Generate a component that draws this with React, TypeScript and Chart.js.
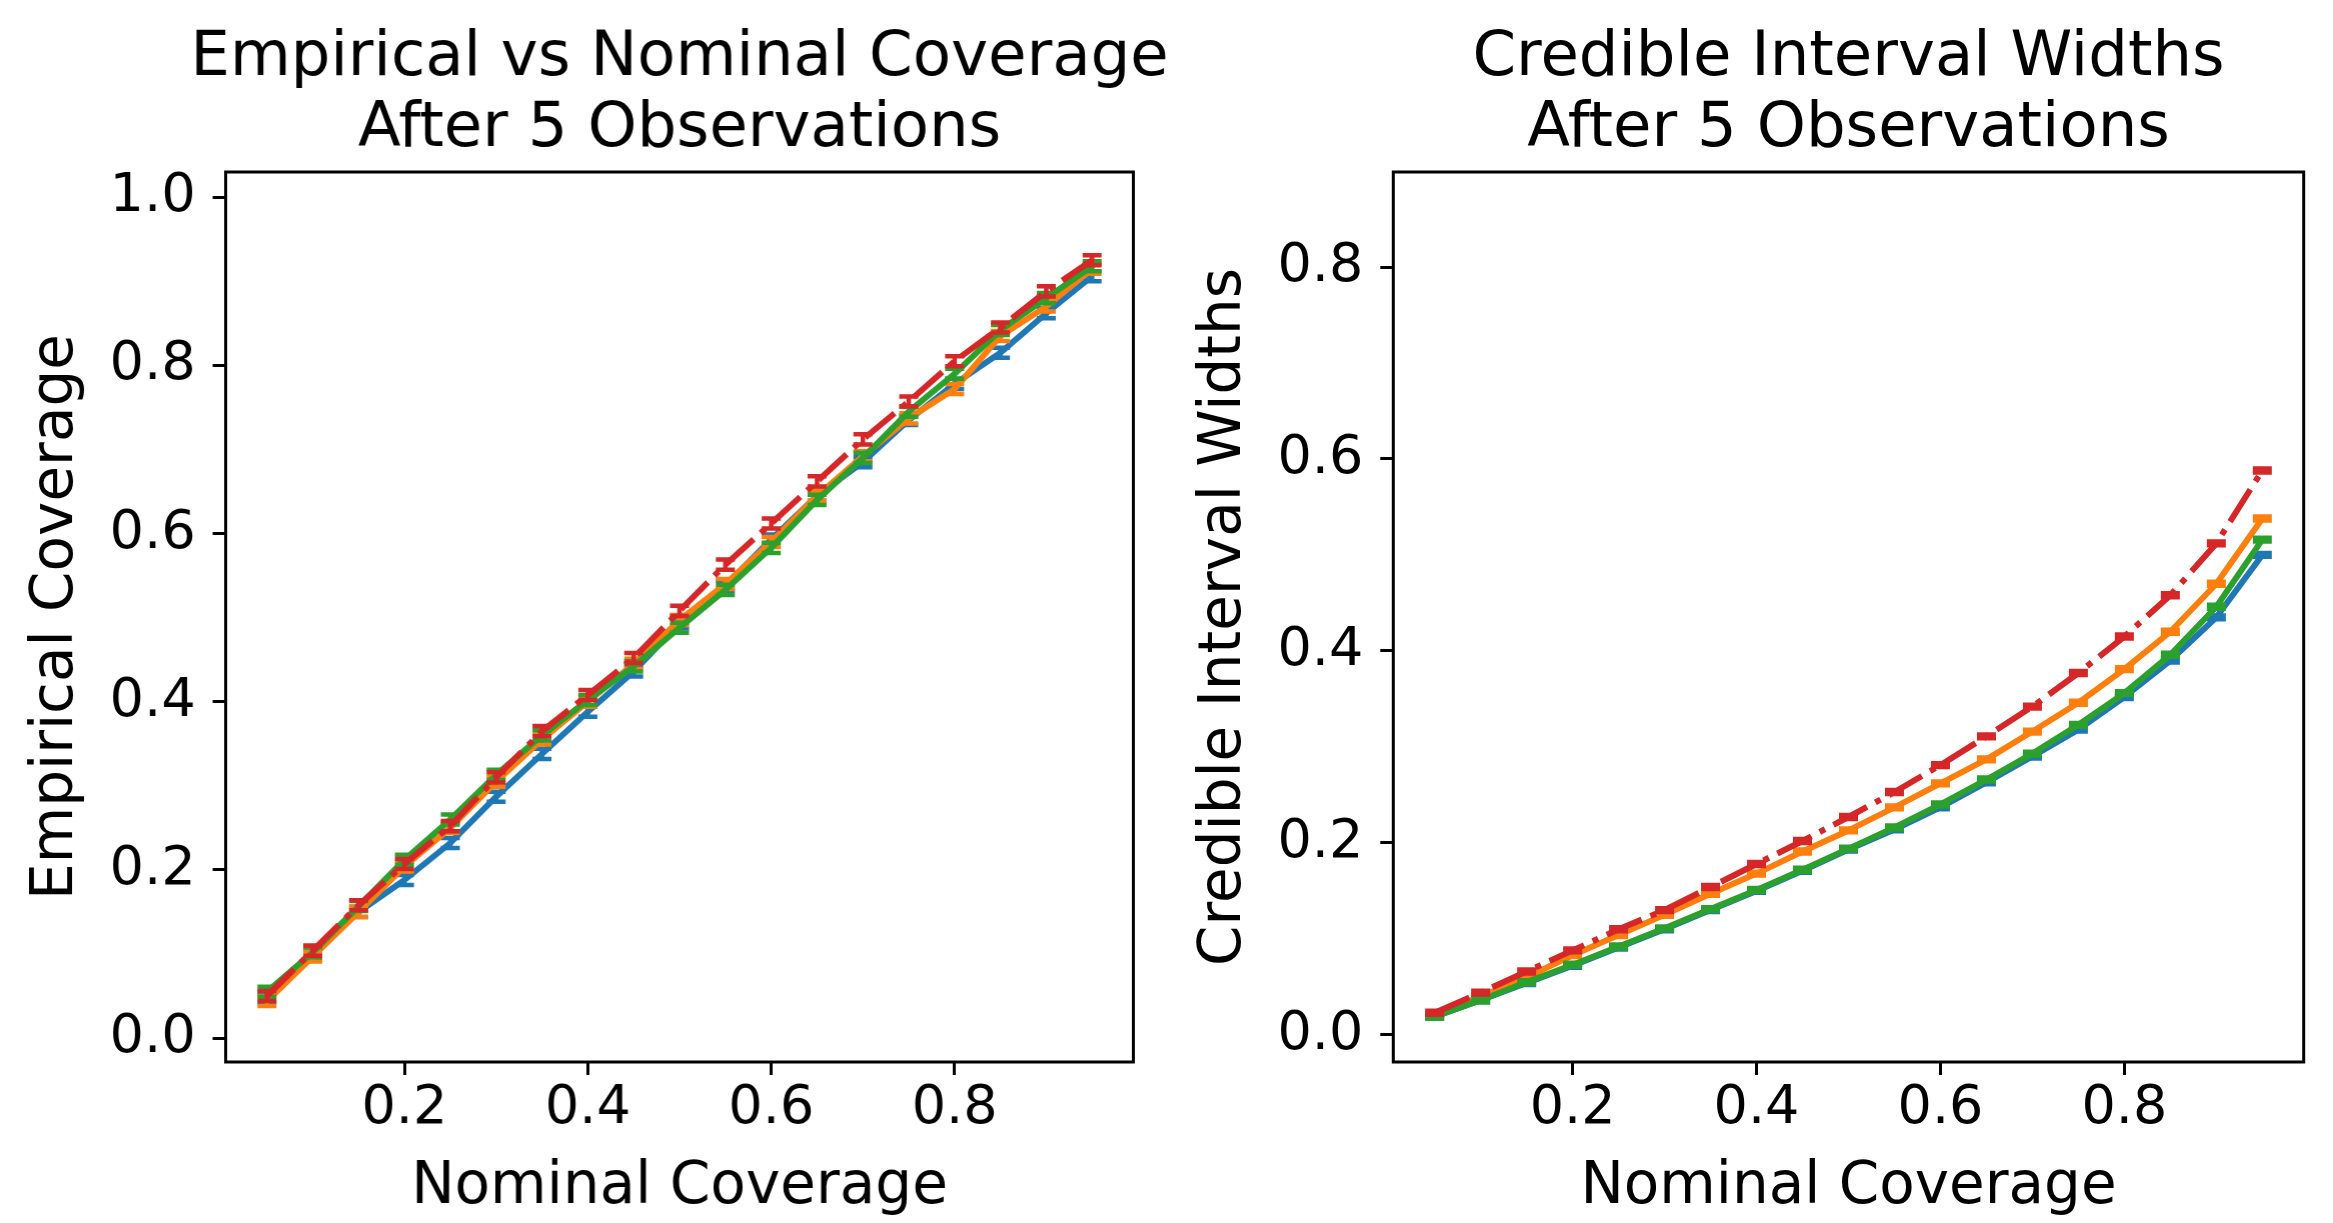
import React, { useEffect, useRef } from "react";
import { Chart, registerables } from "chart.js";

Chart.register(...registerables);

// Nominal coverage levels shared by both panels
const NOMINAL = [0.05, 0.1, 0.15, 0.2, 0.25, 0.3, 0.35, 0.4, 0.45, 0.5, 0.55, 0.6, 0.65, 0.7, 0.75, 0.8, 0.85, 0.9, 0.95];

// Empirical coverage after 5 observations
const COVERAGE_BLUE = [0.048, 0.099, 0.15, 0.188, 0.232, 0.287, 0.338, 0.388, 0.436, 0.493, 0.538, 0.593, 0.645, 0.685, 0.735, 0.778, 0.815, 0.862, 0.906];
const COVERAGE_ORANGE = [0.044, 0.097, 0.15, 0.204, 0.25, 0.305, 0.355, 0.4, 0.445, 0.497, 0.54, 0.59, 0.645, 0.692, 0.737, 0.772, 0.835, 0.87, 0.915];
const COVERAGE_GREEN = [0.055, 0.102, 0.157, 0.212, 0.26, 0.313, 0.36, 0.402, 0.442, 0.488, 0.533, 0.583, 0.64, 0.69, 0.745, 0.79, 0.842, 0.88, 0.918];
const COVERAGE_RED = [0.05, 0.104, 0.158, 0.207, 0.252, 0.31, 0.365, 0.408, 0.452, 0.508, 0.563, 0.612, 0.662, 0.712, 0.757, 0.805, 0.845, 0.888, 0.925];
const COVERAGE_ERR = 0.006;

// Mean credible interval widths after 5 observations
const WIDTH_BLUE = [0.019, 0.036, 0.054, 0.072, 0.091, 0.11, 0.13, 0.15, 0.171, 0.193, 0.214, 0.237, 0.263, 0.29, 0.318, 0.352, 0.39, 0.435, 0.5];
const WIDTH_ORANGE = [0.021, 0.04, 0.06, 0.083, 0.104, 0.125, 0.147, 0.168, 0.191, 0.213, 0.237, 0.262, 0.287, 0.316, 0.346, 0.381, 0.42, 0.47, 0.538];
const WIDTH_GREEN = [0.019, 0.036, 0.055, 0.073, 0.092, 0.111, 0.131, 0.151, 0.172, 0.194, 0.216, 0.24, 0.266, 0.293, 0.323, 0.356, 0.396, 0.446, 0.516];
const WIDTH_RED = [0.023, 0.044, 0.066, 0.088, 0.11, 0.13, 0.154, 0.178, 0.202, 0.227, 0.253, 0.281, 0.311, 0.342, 0.377, 0.415, 0.458, 0.512, 0.588];
const WIDTH_ERR = 0.002;

const X_TICKS_STEP = 0.2;
const Y_TICKS_STEP = 0.2;

const BLUE = "#1f77b4";
const ORANGE = "#ff7f0e";
const GREEN = "#2ca02c";
const RED = "#d62728";

const FONT = "'DejaVu Sans', 'Liberation Sans', sans-serif";
const FIG_W = 2333;
const FIG_H = 1223;
const LINE_W = 6;

// Vertical error bars with caps, drawn right after each dataset's line
const errorBars = {
  id: "errorBars",
  afterDatasetDraw(chart: any, args: any) {
    const ds = chart.data.datasets[args.index];
    if (ds.yErr == null) return;
    const { ctx } = chart;
    const y = chart.scales.y;
    const cap = 9.5;
    ctx.save();
    ctx.strokeStyle = ds.borderColor;
    ctx.lineWidth = 4.5;
    ctx.setLineDash([]);
    ctx.lineCap = "butt";
    args.meta.data.forEach((pt: any, i: number) => {
      const v = ds.data[i].y;
      const e = Array.isArray(ds.yErr) ? ds.yErr[i] : ds.yErr;
      const top = y.getPixelForValue(v + e);
      const bot = y.getPixelForValue(v - e);
      const x = pt.x;
      ctx.beginPath();
      ctx.moveTo(x, top);
      ctx.lineTo(x, bot);
      ctx.moveTo(x - cap, top);
      ctx.lineTo(x + cap, top);
      ctx.moveTo(x - cap, bot);
      ctx.lineTo(x + cap, bot);
      ctx.stroke();
    });
    ctx.restore();
  },
};

// Four-sided axes frame
const frame = {
  id: "frame",
  afterDatasetsDraw(chart: any) {
    const { ctx, chartArea: a } = chart;
    ctx.save();
    ctx.strokeStyle = "#000";
    ctx.lineWidth = 3;
    ctx.setLineDash([]);
    ctx.strokeRect(a.left, a.top, a.right - a.left, a.bottom - a.top);
    ctx.restore();
  },
};

type Panel = {
  left: number;
  plotLeft: number;
  plotRight: number;
  yTitlePad: number;
  title: string[];
  yTitle: string;
  yMin: number;
  yMax: number;
  blue: number[];
  orange: number[];
  green: number[];
  red: number[];
  err: number;
};

function points(values: number[]) {
  return NOMINAL.map((x, i) => ({ x, y: values[i] }));
}

function lineDataset(label: string, values: number[], color: string, err: number, order: number, dash: number[] = []) {
  return {
    label,
    data: points(values),
    borderColor: color,
    backgroundColor: color,
    borderWidth: LINE_W,
    borderDash: dash,
    borderCapStyle: "butt",
    borderJoinStyle: "round",
    pointRadius: 0,
    pointHoverRadius: 0,
    tension: 0,
    fill: false,
    order,
    yErr: err,
  };
}

// Canvas width chosen so the full-width title is centred over the plot area
function canvasWidth(p: Panel) {
  const yWidth = p.plotLeft - p.left;
  return p.plotRight - p.left + yWidth;
}

function makeConfig(p: Panel): any {
  const tickFont = { family: FONT, size: 54 };
  const labelFont = { family: FONT, size: 58, lineHeight: 1.2 };
  const yWidth = p.plotLeft - p.left;
  const grid = {
    display: true,
    drawOnChartArea: false,
    drawTicks: true,
    tickLength: 13,
    tickWidth: 3,
    tickColor: "#000",
  };
  return {
    type: "line",
    data: {
      datasets: [
        lineDataset("blue", p.blue, BLUE, p.err, 3),
        lineDataset("orange", p.orange, ORANGE, p.err, 2),
        lineDataset("green", p.green, GREEN, p.err, 1),
        lineDataset("red", p.red, RED, p.err, 0, [38, 9.5, 6, 9.5]),
      ],
    },
    options: {
      animation: false,
      responsive: false,
      devicePixelRatio: 1,
      events: [],
      layout: { padding: 0 },
      plugins: {
        legend: { display: false },
        tooltip: { enabled: false },
        title: {
          display: true,
          text: p.title,
          fullSize: true,
          color: "#000",
          font: { family: FONT, size: 62.5, weight: "normal", lineHeight: 71 / 62.5 },
          padding: { top: 23, bottom: 7 },
        },
      },
      scales: {
        x: {
          type: "linear",
          min: 0.005,
          max: 0.995,
          afterFit: (s: any) => {
            s.height = FIG_H - 1062;
          },
          ticks: {
            stepSize: X_TICKS_STEP,
            includeBounds: false,
            autoSkip: false,
            maxRotation: 0,
            padding: 2,
            color: "#000",
            font: tickFont,
            callback: (v: number) => Number(v).toFixed(1),
          },
          grid,
          border: { display: false },
          title: {
            display: true,
            text: "Nominal Coverage",
            color: "#000",
            font: labelFont,
            padding: { top: 0, bottom: 0 },
          },
        },
        y: {
          type: "linear",
          position: "left",
          min: p.yMin,
          max: p.yMax,
          afterFit: (s: any) => {
            s.width = yWidth;
          },
          ticks: {
            stepSize: Y_TICKS_STEP,
            includeBounds: false,
            autoSkip: false,
            padding: 17,
            color: "#000",
            font: tickFont,
            callback: (v: number) => Number(v).toFixed(1),
          },
          grid,
          border: { display: false },
          title: {
            display: true,
            text: p.yTitle,
            color: "#000",
            font: labelFont,
            padding: { top: p.yTitlePad, bottom: 0 },
          },
        },
        // empty right-hand gutter, mirrors the y axis so the title sits over the plot
        gutter: {
          type: "linear",
          position: "right",
          display: true,
          afterFit: (s: any) => {
            s.width = yWidth;
          },
          ticks: { display: false },
          grid: { display: false, drawTicks: false },
          border: { display: false },
          title: { display: false },
        },
      },
    },
    plugins: [errorBars, frame],
  };
}

function ChartPanel({ panel }: { panel: Panel }) {
  const ref = useRef<HTMLCanvasElement | null>(null);
  const w = canvasWidth(panel);
  useEffect(() => {
    if (!ref.current) return;
    const chart = new Chart(ref.current, makeConfig(panel));
    return () => chart.destroy();
  }, [panel]);
  return (
    <canvas
      ref={ref}
      width={w}
      height={FIG_H}
      style={{ position: "absolute", left: panel.left, top: 0, width: w, height: FIG_H }}
    />
  );
}

const COVERAGE_PANEL: Panel = {
  left: 0,
  plotLeft: 225.5,
  plotRight: 1133,
  yTitlePad: 22.5,
  title: ["Empirical vs Nominal Coverage", "After 5 Observations"],
  yTitle: "Empirical Coverage",
  yMin: -0.0285,
  yMax: 1.03,
  blue: COVERAGE_BLUE,
  orange: COVERAGE_ORANGE,
  green: COVERAGE_GREEN,
  red: COVERAGE_RED,
  err: COVERAGE_ERR,
};

const WIDTH_PANEL: Panel = {
  left: 1166,
  plotLeft: 1393.3,
  plotRight: 2304,
  yTitlePad: 24,
  title: ["Credible Interval Widths", "After 5 Observations"],
  yTitle: "Credible Interval Widths",
  yMin: -0.0283,
  yMax: 0.899,
  blue: WIDTH_BLUE,
  orange: WIDTH_ORANGE,
  green: WIDTH_GREEN,
  red: WIDTH_RED,
  err: WIDTH_ERR,
};

export default function App() {
  return (
    <div style={{ position: "absolute", left: 0, top: 0, width: FIG_W, height: FIG_H, background: "#fff", overflow: "hidden" }}>
      <ChartPanel panel={COVERAGE_PANEL} />
      <ChartPanel panel={WIDTH_PANEL} />
    </div>
  );
}
